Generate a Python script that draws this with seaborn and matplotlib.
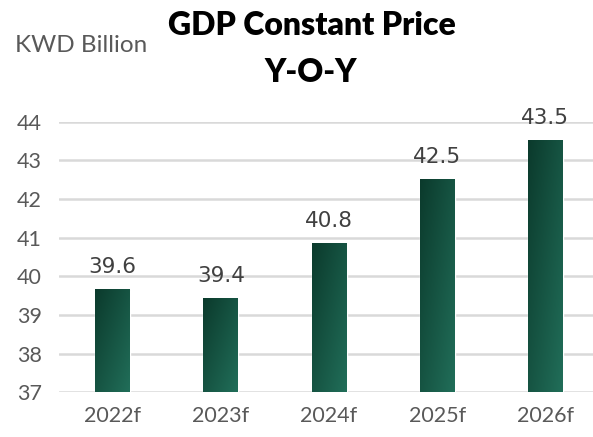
import numpy as np
import pandas as pd
import matplotlib
matplotlib.use("Agg")
import matplotlib.pyplot as plt
from matplotlib.colors import LinearSegmentedColormap
import seaborn as sns

categories = ["2022f", "2023f", "2024f", "2025f", "2026f"]
values = [39.65, 39.42, 40.83, 42.5, 43.5]
labels = ["39.6", "39.4", "40.8", "42.5", "43.5"]
yticks = [37, 38, 39, 40, 41, 42, 43, 44]

sns.set_theme(style="white")
plt.rcParams['font.family'] = ['Lato', 'DejaVu Sans']

YMIN, YMAX = 37, 44
fig = plt.figure(figsize=(5.93, 4.37), dpi=100)
ax = fig.add_axes([0.0987, 0.1023, 0.9123, 0.6192])

df = pd.DataFrame({"cat": categories, "val": values})
sns.barplot(data=df, x="cat", y="val", ax=ax, color="#175a48", width=0.323,
            saturation=1, zorder=3)

ax.set_ylim(YMIN, YMAX)
ax.set_yticks(yticks)
ax.set_yticklabels([str(t) for t in yticks])
ax.grid(axis="y", color="#d9d9d9", linewidth=1.8, zorder=0)
ax.set_axisbelow(True)
for s in ax.spines.values():
    s.set_visible(False)
ax.set_xlabel("")
ax.set_ylabel("")
ax.tick_params(axis="y", labelsize=15.5, colors="#595959", length=0, pad=30)
ax.tick_params(axis="x", labelsize=15.5, colors="#595959", length=0, pad=10)
for t in ax.get_yticklabels():
    t.set_horizontalalignment("left")

# gradient fill (dark top-left -> lighter bottom-right)
cmap = LinearSegmentedColormap.from_list("g", ["#0b3a2c", "#216e59"])
gx, gy = np.meshgrid(np.linspace(0, 1, 50), np.linspace(0, 1, 200))
grad = 0.5 * gx + 0.5 * gy
for p in list(ax.patches):
    x0, y0 = p.get_x(), p.get_y()
    w, h = p.get_width(), p.get_height()
    top = y0 + h
    bot = max(y0, YMIN)
    ax.imshow(grad, cmap=cmap, extent=[x0, x0 + w, bot, top],
              origin="upper", aspect="auto", zorder=4, vmin=0, vmax=1)

for i, (v, lab) in enumerate(zip(values, labels)):
    ax.text(i, v + 0.33, lab, ha="center", va="bottom", fontsize=15.5,
            color="#404040", family="DejaVu Sans", clip_on=False)

ax.set_xlim(-0.5, 4.5)
ax.set_ylim(YMIN, YMAX)

fig.text(0.526, 0.975, "GDP Constant Price", ha="center", va="top",
         fontsize=23, fontweight="heavy", color="black")
fig.text(0.524, 0.867, "Y-O-Y", ha="center", va="top",
         fontsize=23, fontweight="heavy", color="black")
fig.text(0.025, 0.897, "KWD Billion", ha="left", va="center",
         fontsize=17.5, color="#595959")

fig.savefig("out.png", dpi=100)
